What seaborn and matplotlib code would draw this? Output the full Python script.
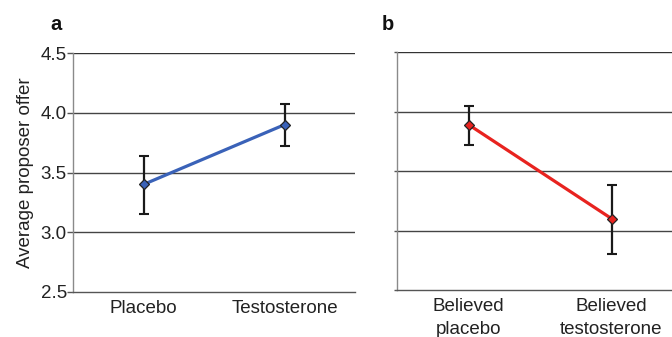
import matplotlib
matplotlib.use("Agg")
import matplotlib.pyplot as plt
import seaborn as sns
import pandas as pd

# Data
cats_a = ["Placebo", "Testosterone"]
means_a = [3.40, 3.90]
err_lo_a = [3.155, 3.72]
err_hi_a = [3.64, 4.07]

cats_b = ["Believed\nplacebo", "Believed\ntestosterone"]
means_b = [3.89, 3.10]
err_lo_b = [3.72, 2.80]
err_hi_b = [4.05, 3.38]

yticks = [2.5, 3.0, 3.5, 4.0, 4.5]
ytick_labels = ["2.5", "3.0", "3.5", "4.0", "4.5"]

sns.set_theme(style="white")
plt.rcParams["font.family"] = ["Liberation Sans", "DejaVu Sans"]

FS = 13.5

fig = plt.figure(figsize=(6.72, 3.37), dpi=100)
W, H = 672, 337
ax_a = fig.add_axes([73 / W, 1 - 292 / H, 282 / W, 239 / H])
ax_b = fig.add_axes([397 / W, 1 - 290 / H, 286 / W, 238 / H])

def panel(ax, cats, means, lo, hi, color, show_labels):
    df = pd.DataFrame({"cond": cats, "value": means})
    sns.lineplot(data=df, x="cond", y="value", ax=ax, color=color, lw=2.3,
                 sort=False, zorder=3)
    xs = list(range(len(cats)))
    yerr = [[m - l for m, l in zip(means, lo)], [h - m for m, h in zip(means, hi)]]
    ax.errorbar(xs, means, yerr=yerr, fmt="none", ecolor="#1a1a1a",
                elinewidth=1.6, capsize=3.5, capthick=1.5, zorder=4)
    ax.plot(xs, means, ls="none", marker="D", ms=5.5, mfc=color,
            mec="#222222", mew=0.9, zorder=5)
    ax.set_xlim(-0.5, 1.5)
    ax.set_ylim(2.5, 4.5)
    ax.set_yticks(yticks)
    ax.set_xticks(xs)
    ax.set_xticklabels(cats, fontsize=FS, color="#222222", linespacing=1.4)
    for y in yticks[1:]:
        ax.axhline(y, color="#444444" if y < 4.5 else "#333333", lw=1.0, zorder=1)
    ax.set_xlabel("")
    ax.set_ylabel("")
    for s in ["top", "right"]:
        ax.spines[s].set_visible(False)
    ax.spines["left"].set_color("#8a8a8a")
    ax.spines["left"].set_linewidth(1.0)
    ax.spines["bottom"].set_color("#555555")
    ax.spines["bottom"].set_linewidth(1.0)
    ax.tick_params(axis="x", length=0, pad=6)
    if show_labels:
        ax.set_yticklabels(ytick_labels, fontsize=FS, color="#222222")
        ax.tick_params(axis="y", length=4, width=1.0, color="#555555", pad=0.5, left=True)
    else:
        ax.set_yticklabels([])
        ax.tick_params(axis="y", length=2, width=1.0, color="#555555", left=True)
    ax.set_facecolor("white")

panel(ax_a, cats_a, means_a, err_lo_a, err_hi_a, "#3a62b8", True)
panel(ax_b, cats_b, means_b, err_lo_b, err_hi_b, "#e8231f", False)

ax_a.set_ylabel("Average proposer offer", fontsize=FS, color="#222222", labelpad=5)

fig.text(50 / W, 1 - 25 / H, "a", fontsize=14.5, fontweight="heavy", va="center", ha="left", color="#111111")
fig.text(382 / W, 1 - 25 / H, "b", fontsize=14.5, fontweight="heavy", va="center", ha="left", color="#111111")

fig.savefig("out.png", dpi=100, facecolor="white")
